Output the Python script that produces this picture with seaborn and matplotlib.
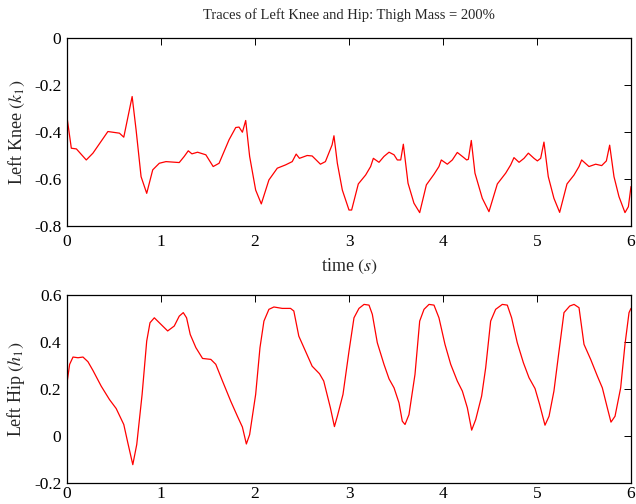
import matplotlib
matplotlib.use("Agg")
import matplotlib.pyplot as plt
import seaborn as sns
import pandas as pd

# Left knee trace (time s, value)
knee_t = [0.0, 0.046, 0.1, 0.205, 0.276, 0.435, 0.558, 0.604, 0.693, 0.735, 0.788, 0.848,
          0.912, 0.982, 1.053, 1.194, 1.247, 1.29, 1.329, 1.389, 1.477, 1.555, 1.618, 1.724,
          1.795, 1.83, 1.866, 1.901, 1.943, 2.007, 2.067, 2.148, 2.237, 2.325, 2.396, 2.438,
          2.473, 2.555, 2.608, 2.696, 2.749, 2.82, 2.84, 2.876, 2.929, 3.0, 3.028, 3.099,
          3.177, 3.23, 3.259, 3.319, 3.372, 3.426, 3.479, 3.514, 3.55, 3.578, 3.628, 3.691,
          3.752, 3.823, 3.904, 3.957, 3.982, 4.046, 4.099, 4.152, 4.206, 4.252, 4.27, 4.301,
          4.34, 4.418, 4.489, 4.578, 4.667, 4.72, 4.755, 4.809, 4.862, 4.908, 4.968, 5.004,
          5.039, 5.074, 5.12, 5.18, 5.241, 5.319, 5.394, 5.447, 5.475, 5.553, 5.624, 5.688,
          5.738, 5.773, 5.819, 5.872, 5.936, 5.972, 6.0]
knee_v = [-0.337, -0.469, -0.472, -0.519, -0.49, -0.398, -0.405, -0.422, -0.249, -0.391, -0.59, -0.661,
          -0.561, -0.533, -0.526, -0.53, -0.504, -0.48, -0.493, -0.486, -0.497, -0.547, -0.533, -0.433,
          -0.381, -0.379, -0.401, -0.351, -0.504, -0.647, -0.706, -0.604, -0.554, -0.54, -0.526, -0.494,
          -0.512, -0.5, -0.502, -0.537, -0.526, -0.455, -0.416, -0.533, -0.647, -0.732, -0.732, -0.621,
          -0.583, -0.547, -0.512, -0.529, -0.504, -0.486, -0.497, -0.519, -0.519, -0.452, -0.618, -0.703,
          -0.743, -0.625, -0.58, -0.547, -0.519, -0.537, -0.519, -0.487, -0.504, -0.519, -0.516, -0.436,
          -0.575, -0.682, -0.739, -0.621, -0.575, -0.54, -0.509, -0.529, -0.512, -0.49, -0.512, -0.523,
          -0.512, -0.443, -0.59, -0.682, -0.742, -0.621, -0.583, -0.547, -0.519, -0.547, -0.537, -0.543,
          -0.523, -0.456, -0.59, -0.675, -0.743, -0.718, -0.632]

# Left hip trace (time s, value)
hip_t = [0.0, 0.028, 0.064, 0.117, 0.17, 0.223, 0.276, 0.364, 0.452, 0.523, 0.604, 0.647,
         0.7, 0.742, 0.799, 0.848, 0.883, 0.929, 0.982, 1.071, 1.141, 1.194, 1.237, 1.272,
         1.311, 1.371, 1.442, 1.53, 1.583, 1.654, 1.742, 1.813, 1.866, 1.908, 1.943, 2.007,
         2.053, 2.095, 2.148, 2.201, 2.29, 2.378, 2.413, 2.466, 2.537, 2.608, 2.686, 2.731,
         2.802, 2.845, 2.876, 2.936, 3.0, 3.053, 3.106, 3.16, 3.213, 3.248, 3.301, 3.372,
         3.426, 3.479, 3.532, 3.567, 3.596, 3.638, 3.702, 3.752, 3.798, 3.851, 3.904, 3.957,
         4.021, 4.082, 4.152, 4.206, 4.259, 4.305, 4.348, 4.411, 4.454, 4.507, 4.56, 4.631,
         4.684, 4.73, 4.79, 4.855, 4.915, 4.979, 5.028, 5.085, 5.128, 5.18, 5.234, 5.287,
         5.348, 5.394, 5.447, 5.5, 5.571, 5.642, 5.695, 5.748, 5.787, 5.83, 5.89, 5.936,
         5.979, 6.0]
hip_v = [0.226, 0.305, 0.336, 0.333, 0.336, 0.316, 0.279, 0.212, 0.155, 0.117, 0.049, -0.029,
         -0.122, -0.036, 0.177, 0.404, 0.482, 0.503, 0.482, 0.447, 0.468, 0.51, 0.525, 0.503,
         0.432, 0.376, 0.33, 0.326, 0.305, 0.234, 0.148, 0.084, 0.038, -0.034, 0.006, 0.177,
         0.376, 0.489, 0.539, 0.549, 0.543, 0.543, 0.532, 0.425, 0.361, 0.297, 0.265, 0.234,
         0.12, 0.04, 0.084, 0.177, 0.361, 0.503, 0.543, 0.56, 0.557, 0.518, 0.397, 0.305,
         0.243, 0.205, 0.141, 0.063, 0.049, 0.091, 0.262, 0.489, 0.539, 0.56, 0.557, 0.503,
         0.39, 0.305, 0.234, 0.191, 0.12, 0.025, 0.07, 0.17, 0.29, 0.489, 0.539, 0.56,
         0.557, 0.503, 0.397, 0.312, 0.248, 0.202, 0.134, 0.046, 0.084, 0.191, 0.361, 0.525,
         0.553, 0.56, 0.546, 0.39, 0.326, 0.255, 0.205, 0.12, 0.059, 0.084, 0.205, 0.39,
         0.525, 0.543]

x_ticks = [0, 1, 2, 3, 4, 5, 6]
knee_yticks = [0, -0.2, -0.4, -0.6, -0.8]
knee_ylabels = ["0", "-0.2", "-0.4", "-0.6", "-0.8"]
hip_yticks = [0.6, 0.4, 0.2, 0, -0.2]
hip_ylabels = ["0.6", "0.4", "0.2", "0", "-0.2"]

sns.set_style("white")
plt.rcParams["font.family"] = ["Liberation Serif", "DejaVu Serif"]
plt.rcParams["mathtext.fontset"] = "stix"
plt.rcParams["axes.unicode_minus"] = False

fig = plt.figure(figsize=(6.36, 5.04), dpi=100)
ax1 = fig.add_axes([67 / 636, 1 - 226 / 504, 564 / 636, 188 / 504])
ax2 = fig.add_axes([67 / 636, 1 - 483 / 504, 564 / 636, 188 / 504])

knee_df = pd.DataFrame({"t": knee_t, "v": knee_v})
hip_df = pd.DataFrame({"t": hip_t, "v": hip_v})

sns.lineplot(data=knee_df, x="t", y="v", ax=ax1, color="#ff0000", linewidth=0.9)
sns.lineplot(data=hip_df, x="t", y="v", ax=ax2, color="#ff0000", linewidth=0.9)

for ax, yt, yl, ylim in [(ax1, knee_yticks, knee_ylabels, (-0.8, 0)),
                         (ax2, hip_yticks, hip_ylabels, (-0.2, 0.6))]:
    ax.set_xlim(0, 6)
    ax.set_ylim(*ylim)
    ax.set_xticks(x_ticks)
    ax.set_xticklabels([str(v) for v in x_ticks])
    ax.set_yticks(yt)
    ax.set_yticklabels(yl)
    ax.tick_params(direction="in", length=5, width=0.7, top=True, right=True,
                   labelsize=12.5, colors="black")
    ax.tick_params(axis="y", pad=4)
    for s in ax.spines.values():
        s.set_visible(True)
        s.set_color("black")
        s.set_linewidth(0.9)

ax1.tick_params(axis="x", pad=6)
ax2.tick_params(axis="x", pad=2)

ax1.set_xlabel("time $(s)$", fontsize=13, labelpad=5)
ax1.set_ylabel("Left Knee $(k_1)$", fontsize=13)
ax2.set_xlabel("")
ax2.set_ylabel("Left Hip $(h_1)$", fontsize=13)
ax1.yaxis.set_label_coords(-40 / 564, 0.5)
ax2.yaxis.set_label_coords(-40 / 564, 0.5)
ax1.set_title("Traces of Left Knee and Hip: Thigh Mass = 200%", fontsize=10.5, pad=14)

fig.savefig("out.png", dpi=100)
